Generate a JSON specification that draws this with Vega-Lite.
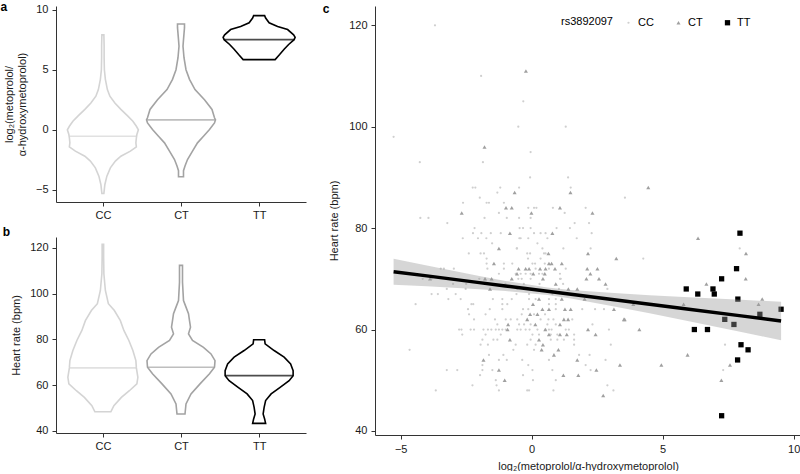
{
 "$schema": "https://vega.github.io/schema/vega-lite/v6.json",
 "background": "white",
 "padding": {"left": 0, "top": 0, "right": 0, "bottom": 0},
 "config": {
  "view": {"stroke": null},
  "font": "Liberation Sans",
  "axis": {"grid": false, "domainColor": "#333333", "tickColor": "#333333", "labelColor": "#1a1a1a", "titleColor": "#1a1a1a", "labelFontSize": 11, "titleFontSize": 11, "titleFontWeight": "normal", "tickSize": 4, "labelPadding": 3, "domainWidth": 1, "tickWidth": 1, "labelFlush": false},
  "title": {"fontSize": 12, "fontWeight": "bold", "anchor": "start", "frame": "bounds", "baseline": "alphabetic", "color": "#000000"}
 },
 "datasets": {
  "va": [
   {"g":"CC","v":7.9,"w":2},{"g":"CC","v":7,"w":2.5},{"g":"CC","v":6,"w":2.5},{"g":"CC","v":5,"w":3},{"g":"CC","v":4.2,"w":5},{"g":"CC","v":3.35,"w":9},{"g":"CC","v":2.8,"w":14},{"g":"CC","v":2.24,"w":24},{"g":"CC","v":1.7,"w":36},{"g":"CC","v":1.14,"w":50},{"g":"CC","v":0.72,"w":60},{"g":"CC","v":0.3,"w":67},{"g":"CC","v":0,"w":71},{"g":"CC","v":-0.39,"w":68},{"g":"CC","v":-0.66,"w":67},{"g":"CC","v":-1.08,"w":66},{"g":"CC","v":-1.41,"w":67},{"g":"CC","v":-1.77,"w":55},{"g":"CC","v":-2.19,"w":36},{"g":"CC","v":-2.6,"w":25},{"g":"CC","v":-3.16,"w":15},{"g":"CC","v":-3.85,"w":8},{"g":"CC","v":-4.54,"w":4},{"g":"CC","v":-5.29,"w":2},
   {"g":"CT","v":8.8,"w":7},{"g":"CT","v":8.5,"w":7},{"g":"CT","v":8,"w":6},{"g":"CT","v":7.5,"w":5},{"g":"CT","v":6.95,"w":4},{"g":"CT","v":6,"w":6},{"g":"CT","v":5,"w":10},{"g":"CT","v":4.2,"w":17},{"g":"CT","v":3.35,"w":28},{"g":"CT","v":2.5,"w":47},{"g":"CT","v":1.7,"w":62},{"g":"CT","v":1,"w":67},{"g":"CT","v":0.83,"w":69},{"g":"CT","v":0.58,"w":67},{"g":"CT","v":0.03,"w":57},{"g":"CT","v":-0.53,"w":45},{"g":"CT","v":-1.08,"w":33},{"g":"CT","v":-1.77,"w":23},{"g":"CT","v":-2.47,"w":13},{"g":"CT","v":-3,"w":8},{"g":"CT","v":-3.4,"w":5},{"g":"CT","v":-3.9,"w":5},
   {"g":"TT","v":9.5,"w":11},{"g":"TT","v":9.3,"w":13},{"g":"TT","v":8.9,"w":20},{"g":"TT","v":8.6,"w":37},{"g":"TT","v":8.34,"w":57},{"g":"TT","v":7.9,"w":69},{"g":"TT","v":7.7,"w":72},{"g":"TT","v":7.5,"w":70},{"g":"TT","v":7.1,"w":59},{"g":"TT","v":6.7,"w":50},{"g":"TT","v":6.26,"w":41},{"g":"TT","v":5.84,"w":32}
  ],
  "vb": [
   {"g":"CC","v":121.6,"w":1.5},{"g":"CC","v":116,"w":1.5},{"g":"CC","v":108.7,"w":2},{"g":"CC","v":101.4,"w":5},{"g":"CC","v":95.6,"w":11},{"g":"CC","v":92.6,"w":23},{"g":"CC","v":88.2,"w":35},{"g":"CC","v":83.9,"w":42},{"g":"CC","v":79.5,"w":52},{"g":"CC","v":75.1,"w":60},{"g":"CC","v":70.7,"w":66},{"g":"CC","v":67.5,"w":67},{"g":"CC","v":63.4,"w":70},{"g":"CC","v":60.5,"w":68},{"g":"CC","v":57.5,"w":53},{"g":"CC","v":54.6,"w":37},{"g":"CC","v":51,"w":22},{"g":"CC","v":48.3,"w":16},
   {"g":"CT","v":112.4,"w":3},{"g":"CT","v":105,"w":3},{"g":"CT","v":97,"w":5},{"g":"CT","v":94.1,"w":10},{"g":"CT","v":91.2,"w":15},{"g":"CT","v":88.2,"w":17},{"g":"CT","v":85.3,"w":19},{"g":"CT","v":82.4,"w":15},{"g":"CT","v":79.5,"w":23},{"g":"CT","v":76.5,"w":45},{"g":"CT","v":73.6,"w":60},{"g":"CT","v":70.7,"w":68},{"g":"CT","v":67.8,"w":67},{"g":"CT","v":64.9,"w":57},{"g":"CT","v":60.5,"w":38},{"g":"CT","v":56.1,"w":20},{"g":"CT","v":51.7,"w":10},{"g":"CT","v":47.3,"w":8},
   {"g":"TT","v":79.8,"w":11},{"g":"TT","v":78,"w":12},{"g":"TT","v":75.1,"w":30},{"g":"TT","v":72.2,"w":50},{"g":"TT","v":69.2,"w":63},{"g":"TT","v":66.3,"w":68},{"g":"TT","v":64.1,"w":68},{"g":"TT","v":61.9,"w":60},{"g":"TT","v":59,"w":42},{"g":"TT","v":56.1,"w":24},{"g":"TT","v":53.2,"w":13},{"g":"TT","v":50.2,"w":10},{"g":"TT","v":47.3,"w":8},{"g":"TT","v":45.1,"w":11},{"g":"TT","v":43.2,"w":13}
  ],
  "ma": [{"g":"CC","v":-0.53,"w":67},{"g":"CT","v":0.83,"w":69},{"g":"TT","v":7.5,"w":70}],
  "mb": [{"g":"CC","v":67.5,"w":67},{"g":"CT","v":67.8,"w":67},{"g":"TT","v":64.1,"w":68}],
  "fit": [
   {"x":-5.27,"fit":71.4,"lo":68.85,"hi":73.95},{"x":-4,"fit":70.57,"lo":68.52,"hi":72.62},{"x":-2,"fit":69.25,"lo":67.94,"hi":70.56},{"x":-1,"fit":68.59,"lo":67.59,"hi":69.59},{"x":0.6,"fit":67.54,"lo":66.79,"hi":68.29},{"x":1.5,"fit":66.95,"lo":66.11,"hi":67.79},{"x":3,"fit":65.97,"lo":64.71,"hi":67.23},{"x":4.5,"fit":64.98,"lo":63.21,"hi":66.75},{"x":6,"fit":63.99,"lo":61.61,"hi":66.37},{"x":8,"fit":62.68,"lo":59.5,"hi":65.86},{"x":9.52,"fit":61.68,"lo":57.88,"hi":65.48}
  ],
  "pts": [
   {"g":"CC","x":-4.27,"y":93},{"g":"CC","x":-1.86,"y":93},{"g":"CC","x":-2.25,"y":88},{"g":"CC","x":-2.15,"y":88},{"g":"CC","x":-1.2,"y":88},{"g":"CC","x":-0.48,"y":88},{"g":"CC","x":-1.31,"y":87},{"g":"CC","x":-1.98,"y":86},{"g":"CC","x":-2.62,"y":85},{"g":"CC","x":-1.72,"y":85},{"g":"CC","x":-1.63,"y":85},{"g":"CC","x":-1.06,"y":85},{"g":"CC","x":-1.25,"y":83},{"g":"CC","x":-4.25,"y":82},{"g":"CC","x":-3.94,"y":82},{"g":"CC","x":-3.22,"y":81},{"g":"CC","x":-1.8,"y":82},{"g":"CC","x":-0.95,"y":82},{"g":"CC","x":-2.18,"y":80},{"g":"CC","x":-2.24,"y":79},{"g":"CC","x":-1.92,"y":79},{"g":"CC","x":-1.56,"y":79},{"g":"CC","x":-1.18,"y":79},{"g":"CC","x":-2.63,"y":78},{"g":"CC","x":-2.05,"y":78},{"g":"CC","x":-1.73,"y":78},{"g":"CC","x":-0.47,"y":78},{"g":"CC","x":-1.51,"y":77},{"g":"CC","x":-0.56,"y":76},{"g":"CC","x":-2.4,"y":75},{"g":"CC","x":-1.95,"y":75},{"g":"CC","x":-1.82,"y":75},{"g":"CC","x":-1.72,"y":74},{"g":"CC","x":-1.72,"y":73},{"g":"CC","x":-1.06,"y":73},{"g":"CC","x":-0.74,"y":73},{"g":"CC","x":-3.47,"y":72},{"g":"CC","x":-3.35,"y":72},{"g":"CC","x":-2.97,"y":72},{"g":"CC","x":-1.69,"y":72},{"g":"CC","x":-1.06,"y":72},{"g":"CC","x":-1.25,"y":71},{"g":"CC","x":-4.16,"y":70},{"g":"CC","x":-3.82,"y":70},
   {"g":"CC","x":-1.93,"y":110},{"g":"CC","x":-0.32,"y":105},{"g":"CC","x":-5.27,"y":98},{"g":"CC","x":-3.69,"y":120},
   {"g":"CC","x":1.3,"y":100},{"g":"CC","x":-0.51,"y":100},{"g":"CC","x":-0.04,"y":95},{"g":"CC","x":-0.06,"y":90},{"g":"CC","x":1.39,"y":90},{"g":"CC","x":1.49,"y":88},{"g":"CC","x":3.56,"y":86},{"g":"CC","x":-0.13,"y":84},{"g":"CC","x":0.09,"y":84},{"g":"CC","x":0.18,"y":84},{"g":"CC","x":1.26,"y":83},{"g":"CC","x":2.06,"y":84},{"g":"CC","x":0.81,"y":84},{"g":"CC","x":-0.48,"y":82},{"g":"CC","x":-0.04,"y":82},{"g":"CC","x":1.64,"y":81},{"g":"CC","x":2.19,"y":81},{"g":"CC","x":-0.46,"y":80},{"g":"CC","x":-0.33,"y":80},{"g":"CC","x":-0.04,"y":80},{"g":"CC","x":0.95,"y":80},{"g":"CC","x":1.46,"y":80},{"g":"CC","x":0.09,"y":79},{"g":"CC","x":0.34,"y":79},{"g":"CC","x":0.53,"y":79},{"g":"CC","x":2.29,"y":79},{"g":"CC","x":-0.42,"y":78},{"g":"CC","x":-0.13,"y":78},{"g":"CC","x":0.6,"y":78},{"g":"CC","x":1.72,"y":78},{"g":"CC","x":0.22,"y":77},{"g":"CC","x":-0.57,"y":76},{"g":"CC","x":0.41,"y":76},{"g":"CC","x":1.21,"y":76},{"g":"CC","x":2.25,"y":76},{"g":"CC","x":-0.17,"y":75},{"g":"CC","x":-0.06,"y":75},{"g":"CC","x":0.47,"y":75},{"g":"CC","x":0.53,"y":75},{"g":"CC","x":-0.14,"y":74},{"g":"CC","x":0.34,"y":74},{"g":"CC","x":0.03,"y":73},{"g":"CC","x":0.13,"y":73},{"g":"CC","x":0.5,"y":73},{"g":"CC","x":0.15,"y":72},{"g":"CC","x":0.66,"y":72},{"g":"CC","x":1.3,"y":72},{"g":"CC","x":-0.51,"y":70},{"g":"CC","x":-0.38,"y":70},{"g":"CC","x":-0.04,"y":70},{"g":"CC","x":1.11,"y":70},
   {"g":"CC","x":-3.24,"y":68},{"g":"CC","x":-2.52,"y":68},{"g":"CC","x":-3.82,"y":67},{"g":"CC","x":-3.58,"y":67},{"g":"CC","x":-3.18,"y":66},{"g":"CC","x":-2.71,"y":66},{"g":"CC","x":-1.48,"y":66},{"g":"CC","x":-1.12,"y":66},{"g":"CC","x":-0.76,"y":66},{"g":"CC","x":-4.43,"y":65},{"g":"CC","x":-2.3,"y":65},{"g":"CC","x":-2.23,"y":65},{"g":"CC","x":-1.12,"y":65},{"g":"CC","x":-0.93,"y":65},{"g":"CC","x":-2.43,"y":64},{"g":"CC","x":-1.6,"y":64},{"g":"CC","x":-1.12,"y":64},{"g":"CC","x":-2.39,"y":63},{"g":"CC","x":-1.76,"y":63},{"g":"CC","x":-2.2,"y":62},{"g":"CC","x":-1.4,"y":62},{"g":"CC","x":-0.99,"y":62},{"g":"CC","x":-0.8,"y":62},{"g":"CC","x":-1.31,"y":61},{"g":"CC","x":-0.48,"y":61},{"g":"CC","x":-2.77,"y":60},{"g":"CC","x":-2.68,"y":60},{"g":"CC","x":-2.33,"y":60},{"g":"CC","x":-2.2,"y":60},{"g":"CC","x":-1.84,"y":60},{"g":"CC","x":-1.67,"y":60},{"g":"CC","x":-1.54,"y":60},{"g":"CC","x":-1.37,"y":60},{"g":"CC","x":-1.25,"y":60},{"g":"CC","x":-1.12,"y":60},{"g":"CC","x":-0.99,"y":60},{"g":"CC","x":-2.65,"y":59},{"g":"CC","x":-1.76,"y":59},{"g":"CC","x":-1.18,"y":59},{"g":"CC","x":-1.88,"y":58},{"g":"CC","x":-1.46,"y":58},{"g":"CC","x":-1.31,"y":58},{"g":"CC","x":-1.95,"y":57},{"g":"CC","x":-1.67,"y":57},{"g":"CC","x":-0.61,"y":57},{"g":"CC","x":-4.66,"y":56},{"g":"CC","x":-0.7,"y":56},{"g":"CC","x":-1.63,"y":55},{"g":"CC","x":-1.08,"y":55},{"g":"CC","x":-1.25,"y":54},{"g":"CC","x":-0.95,"y":54},{"g":"CC","x":-1.88,"y":53},{"g":"CC","x":-3.24,"y":52},{"g":"CC","x":-2.84,"y":52},{"g":"CC","x":-1.88,"y":52},{"g":"CC","x":-1.5,"y":52},{"g":"CC","x":-1.97,"y":51},{"g":"CC","x":-1.37,"y":50},{"g":"CC","x":-2.26,"y":49},{"g":"CC","x":-1.34,"y":49},{"g":"CC","x":-3.66,"y":48},{"g":"CC","x":-1.25,"y":48},
   {"g":"CC","x":-0.61,"y":71},{"g":"CC","x":-0.42,"y":71},{"g":"CC","x":-0.23,"y":71},{"g":"CC","x":-0.04,"y":71},{"g":"CC","x":0.28,"y":71},{"g":"CC","x":0.41,"y":71},{"g":"CC","x":1.08,"y":71},{"g":"CC","x":1.08,"y":70},
   {"g":"CC","x":-0.55,"y":68},{"g":"CC","x":-0.23,"y":68},{"g":"CC","x":1.04,"y":68},{"g":"CC","x":2.89,"y":68},{"g":"CC","x":-0.58,"y":67},{"g":"CC","x":-0.1,"y":67},{"g":"CC","x":0.79,"y":67},{"g":"CC","x":-0.1,"y":66},{"g":"CC","x":0.15,"y":66},{"g":"CC","x":0.66,"y":66},{"g":"CC","x":0.92,"y":66},{"g":"CC","x":0.66,"y":65},{"g":"CC","x":0.92,"y":65},{"g":"CC","x":-0.33,"y":64},{"g":"CC","x":-0.13,"y":64},{"g":"CC","x":0.92,"y":64},{"g":"CC","x":1.93,"y":64},{"g":"CC","x":2.42,"y":64},{"g":"CC","x":2.76,"y":64},{"g":"CC","x":-0.38,"y":63},{"g":"CC","x":0.09,"y":63},{"g":"CC","x":0.51,"y":63},{"g":"CC","x":-0.55,"y":62},{"g":"CC","x":0.34,"y":62},{"g":"CC","x":0.64,"y":62},{"g":"CC","x":0.83,"y":62},{"g":"CC","x":1.55,"y":62},{"g":"CC","x":-0.29,"y":61},{"g":"CC","x":-0.04,"y":61},{"g":"CC","x":0.6,"y":61},{"g":"CC","x":0.92,"y":61},{"g":"CC","x":2.32,"y":61},{"g":"CC","x":-0.55,"y":60},{"g":"CC","x":-0.42,"y":60},{"g":"CC","x":-0.23,"y":60},{"g":"CC","x":-0.08,"y":60},{"g":"CC","x":0.22,"y":60},{"g":"CC","x":0.53,"y":60},{"g":"CC","x":0.66,"y":60},{"g":"CC","x":0.76,"y":60},{"g":"CC","x":1.3,"y":60},{"g":"CC","x":1.42,"y":60},{"g":"CC","x":2.95,"y":60},{"g":"CC","x":0.03,"y":59},{"g":"CC","x":0.28,"y":59},{"g":"CC","x":0.73,"y":59},{"g":"CC","x":0.98,"y":59},{"g":"CC","x":1.62,"y":59},{"g":"CC","x":-0.04,"y":58},{"g":"CC","x":0.73,"y":58},{"g":"CC","x":0.98,"y":58},{"g":"CC","x":1.23,"y":58},{"g":"CC","x":1.62,"y":58},{"g":"CC","x":-0.17,"y":57},{"g":"CC","x":0.15,"y":57},{"g":"CC","x":1.62,"y":57},{"g":"CC","x":3.02,"y":57},{"g":"CC","x":0.09,"y":56},{"g":"CC","x":1.81,"y":55},{"g":"CC","x":2.21,"y":55},{"g":"CC","x":-0.36,"y":54},{"g":"CC","x":0.66,"y":54},{"g":"CC","x":2.82,"y":54},{"g":"CC","x":-0.13,"y":53},{"g":"CC","x":2.06,"y":53},{"g":"CC","x":0.03,"y":52},{"g":"CC","x":0.79,"y":52},{"g":"CC","x":2.25,"y":52},{"g":"CC","x":-0.33,"y":51},{"g":"CC","x":0.05,"y":50},{"g":"CC","x":0.92,"y":50},{"g":"CC","x":2.89,"y":49},{"g":"CC","x":-0.17,"y":48},{"g":"CC","x":-0.1,"y":48},{"g":"CC","x":0.83,"y":48},{"g":"CC","x":3.12,"y":48},
   {"g":"CC","x":4.26,"y":74},{"g":"CC","x":7.94,"y":76},{"g":"CC","x":7.31,"y":52},{"g":"CC","x":7.38,"y":57},{"g":"CC","x":-3.0,"y":69},{"g":"CC","x":-2.5,"y":69},{"g":"CC","x":-1.0,"y":69},{"g":"CC","x":0.3,"y":69},{"g":"CC","x":1.2,"y":69},{"g":"CC","x":-2.0,"y":70},{"g":"CC","x":-2.9,"y":67},{"g":"CC","x":-0.3,"y":69},
   {"g":"CT","x":-1.8,"y":96},{"g":"CT","x":-0.65,"y":87},{"g":"CT","x":-0.98,"y":84},{"g":"CT","x":-0.76,"y":84},{"g":"CT","x":-2.67,"y":83},{"g":"CT","x":-0.83,"y":79},{"g":"CT","x":-1.25,"y":76},{"g":"CT","x":-1.44,"y":73},{"g":"CT","x":-0.5,"y":72},{"g":"CT","x":-0.56,"y":71},{"g":"CT","x":-1.78,"y":70},{"g":"CT","x":-1.53,"y":70},{"g":"CT","x":-0.76,"y":70},{"g":"CT","x":-3.88,"y":70},{"g":"CT","x":-1.59,"y":68},{"g":"CT","x":-0.9,"y":61},{"g":"CT","x":-0.92,"y":60},{"g":"CT","x":-0.83,"y":58},{"g":"CT","x":-1.84,"y":54},{"g":"CT","x":-1.25,"y":52},{"g":"CT","x":-1.03,"y":50},
   {"g":"CT","x":-0.22,"y":111},{"g":"CT","x":1.48,"y":87},{"g":"CT","x":-0.01,"y":83},{"g":"CT","x":1.08,"y":84},{"g":"CT","x":2.32,"y":83},{"g":"CT","x":0.79,"y":79},{"g":"CT","x":0.64,"y":75},{"g":"CT","x":2.15,"y":75},{"g":"CT","x":3.23,"y":74},{"g":"CT","x":0.66,"y":73},{"g":"CT","x":0.76,"y":73},{"g":"CT","x":1.15,"y":73},
   {"g":"CT","x":-0.23,"y":72},{"g":"CT","x":-0.1,"y":72},{"g":"CT","x":0.32,"y":72},{"g":"CT","x":0.53,"y":72},{"g":"CT","x":0.89,"y":72},{"g":"CT","x":2.12,"y":72},{"g":"CT","x":2.51,"y":72},{"g":"CT","x":0.06,"y":71},{"g":"CT","x":0.5,"y":71},{"g":"CT","x":2.24,"y":71},{"g":"CT","x":0.43,"y":70},{"g":"CT","x":2.09,"y":70},{"g":"CT","x":2.57,"y":70},
   {"g":"CT","x":2.82,"y":69},{"g":"CT","x":0.92,"y":69},{"g":"CT","x":1.4,"y":68},{"g":"CT","x":1.74,"y":68},{"g":"CT","x":1.15,"y":66},{"g":"CT","x":2.02,"y":66},{"g":"CT","x":0.28,"y":66},{"g":"CT","x":0.05,"y":65},{"g":"CT","x":0.41,"y":64},{"g":"CT","x":0.66,"y":64},{"g":"CT","x":1.27,"y":64},{"g":"CT","x":1.49,"y":64},{"g":"CT","x":-0.06,"y":63},{"g":"CT","x":0.22,"y":63},{"g":"CT","x":3.14,"y":64},{"g":"CT","x":-0.17,"y":62},{"g":"CT","x":1.23,"y":62},{"g":"CT","x":1.39,"y":62},{"g":"CT","x":3.52,"y":62},{"g":"CT","x":0.14,"y":61},{"g":"CT","x":1.08,"y":61},{"g":"CT","x":0.52,"y":60},{"g":"CT","x":2.15,"y":60},{"g":"CT","x":0.66,"y":59},{"g":"CT","x":1.08,"y":59},{"g":"CT","x":1.34,"y":59},{"g":"CT","x":2.44,"y":59},{"g":"CT","x":0.28,"y":58},{"g":"CT","x":0.43,"y":57},{"g":"CT","x":0.38,"y":56},{"g":"CT","x":1.02,"y":56},{"g":"CT","x":0.85,"y":55},{"g":"CT","x":1.74,"y":54},{"g":"CT","x":3.37,"y":53},{"g":"CT","x":2.47,"y":52},{"g":"CT","x":1.21,"y":51},{"g":"CT","x":1.78,"y":51},{"g":"CT","x":2.73,"y":47},
   {"g":"CT","x":4.45,"y":88},{"g":"CT","x":6.35,"y":78},{"g":"CT","x":8.18,"y":75},{"g":"CT","x":8.17,"y":70},{"g":"CT","x":6.67,"y":69},{"g":"CT","x":8.8,"y":66},{"g":"CT","x":8.66,"y":65},{"g":"CT","x":5.8,"y":65},{"g":"CT","x":3.88,"y":65},{"g":"CT","x":3.55,"y":62},{"g":"CT","x":5.95,"y":55},{"g":"CT","x":7.57,"y":53},{"g":"CT","x":7.24,"y":50},{"g":"CT","x":4.95,"y":53},{"g":"CT","x":4.11,"y":60},
   {"g":"TT","x":7.95,"y":79},{"g":"TT","x":7.82,"y":72},{"g":"TT","x":7.25,"y":70},{"g":"TT","x":5.9,"y":68},{"g":"TT","x":6.92,"y":68},{"g":"TT","x":6.34,"y":67},{"g":"TT","x":6.97,"y":67},{"g":"TT","x":7.87,"y":66},{"g":"TT","x":9.52,"y":64},{"g":"TT","x":8.71,"y":63},{"g":"TT","x":7.37,"y":62},{"g":"TT","x":7.72,"y":61},{"g":"TT","x":6.21,"y":60},{"g":"TT","x":6.71,"y":60},{"g":"TT","x":7.99,"y":57},{"g":"TT","x":8.26,"y":56},{"g":"TT","x":7.86,"y":54},{"g":"TT","x":7.25,"y":43}
  ]
 },
 "spacing": 16,
 "resolve": {"scale": {"color": "independent", "size": "independent", "shape": "independent"}, "legend": {"color": "independent", "size": "independent", "shape": "independent"}},
 "hconcat": [
  {
   "spacing": 6,
   "vconcat": [
    {
     "width": 250, "height": 196,
     "title": {"text": "a", "offset": -10, "dx": -3},
     "resolve": {"scale": {"x": "independent"}},
     "layer": [
      {"data": {"name": "va"}, "transform": [{"filter": "datum.g === 'CC'"}],
       "mark": {"type": "area", "orient": "horizontal", "fill": "white", "stroke": "#d4d4d4", "strokeWidth": 1.6},
       "encoding": {
        "y": {"field": "v", "type": "quantitative", "scale": {"domain": [-6.0, 10.3], "nice": false, "zero": false}, "axis": {"values": [-5, 0, 5, 10], "title": ["log₂(metoprolol/", "α-hydroxymetoprolol)"], "titlePadding": 8, "labelPadding": 4}},
        "x": {"field": "w", "type": "quantitative", "stack": "center", "scale": {"domain": [-11.375, 238.625], "nice": false, "zero": false}, "axis": null}}},
      {"data": {"name": "va"}, "transform": [{"filter": "datum.g === 'CT'"}],
       "mark": {"type": "area", "orient": "horizontal", "fill": "white", "stroke": "#a3a3a3", "strokeWidth": 1.6},
       "encoding": {
        "y": {"field": "v", "type": "quantitative", "scale": {"domain": [-6.0, 10.3], "nice": false, "zero": false}},
        "x": {"field": "w", "type": "quantitative", "stack": "center", "scale": {"domain": [-90.5, 159.5], "nice": false, "zero": false}, "axis": null}}},
      {"data": {"name": "va"}, "transform": [{"filter": "datum.g === 'TT'"}],
       "mark": {"type": "area", "orient": "horizontal", "fill": "white", "stroke": "#000000", "strokeWidth": 1.6},
       "encoding": {
        "y": {"field": "v", "type": "quantitative", "scale": {"domain": [-6.0, 10.3], "nice": false, "zero": false}},
        "x": {"field": "w", "type": "quantitative", "stack": "center", "scale": {"domain": [-167.125, 82.875], "nice": false, "zero": false}, "axis": null}}},
      {"data": {"name": "ma"},
       "mark": {"type": "tick", "orient": "horizontal", "thickness": 1.6},
       "encoding": {
        "x": {"field": "g", "type": "nominal", "sort": ["CC", "CT", "TT"], "scale": {"type": "point", "padding": 0.6}, "axis": {"title": null, "labelAngle": 0, "labelPadding": 3}},
        "y": {"field": "v", "type": "quantitative", "scale": {"domain": [-6.0, 10.3], "nice": false, "zero": false}},
        "size": {"field": "w", "type": "quantitative", "scale": null},
        "color": {"field": "g", "type": "nominal", "scale": {"domain": ["CC", "CT", "TT"], "range": ["#d4d4d4", "#a3a3a3", "#000000"]}, "legend": null}}}
     ]
    },
    {
     "width": 250, "height": 196,
     "title": {"text": "b", "offset": -2, "dx": -8},
     "resolve": {"scale": {"x": "independent"}},
     "layer": [
      {"data": {"name": "vb"}, "transform": [{"filter": "datum.g === 'CC'"}],
       "mark": {"type": "area", "orient": "horizontal", "fill": "white", "stroke": "#d4d4d4", "strokeWidth": 1.6},
       "encoding": {
        "y": {"field": "v", "type": "quantitative", "scale": {"domain": [39.0, 124.8], "nice": false, "zero": false}, "axis": {"values": [40, 60, 80, 100, 120], "title": "Heart rate (bpm)", "titlePadding": 8, "labelPadding": 4}},
        "x": {"field": "w", "type": "quantitative", "stack": "center", "scale": {"domain": [-11.875, 238.125], "nice": false, "zero": false}, "axis": null}}},
      {"data": {"name": "vb"}, "transform": [{"filter": "datum.g === 'CT'"}],
       "mark": {"type": "area", "orient": "horizontal", "fill": "white", "stroke": "#a3a3a3", "strokeWidth": 1.6},
       "encoding": {
        "y": {"field": "v", "type": "quantitative", "scale": {"domain": [39.0, 124.8], "nice": false, "zero": false}},
        "x": {"field": "w", "type": "quantitative", "stack": "center", "scale": {"domain": [-91, 159], "nice": false, "zero": false}, "axis": null}}},
      {"data": {"name": "vb"}, "transform": [{"filter": "datum.g === 'TT'"}],
       "mark": {"type": "area", "orient": "horizontal", "fill": "white", "stroke": "#000000", "strokeWidth": 1.6},
       "encoding": {
        "y": {"field": "v", "type": "quantitative", "scale": {"domain": [39.0, 124.8], "nice": false, "zero": false}},
        "x": {"field": "w", "type": "quantitative", "stack": "center", "scale": {"domain": [-169.125, 80.875], "nice": false, "zero": false}, "axis": null}}},
      {"data": {"name": "mb"},
       "mark": {"type": "tick", "orient": "horizontal", "thickness": 1.6},
       "encoding": {
        "x": {"field": "g", "type": "nominal", "sort": ["CC", "CT", "TT"], "scale": {"type": "point", "padding": 0.6}, "axis": {"title": null, "labelAngle": 0, "labelPadding": 3}},
        "y": {"field": "v", "type": "quantitative", "scale": {"domain": [39.0, 124.8], "nice": false, "zero": false}},
        "size": {"field": "w", "type": "quantitative", "scale": null},
        "color": {"field": "g", "type": "nominal", "scale": {"domain": ["CC", "CT", "TT"], "range": ["#d4d4d4", "#a3a3a3", "#000000"]}, "legend": null}}}
     ]
    }
   ]
  },
  {
   "width": 426, "height": 429,
   "title": {"text": "c", "offset": -10, "dx": -6},
   "layer": [
    {"data": {"name": "pts"},
     "mark": {"type": "point", "filled": true, "opacity": 1, "strokeWidth": 0},
     "encoding": {
      "x": {"field": "x", "type": "quantitative", "scale": {"domain": [-5.98, 10.28], "nice": false, "zero": false}, "axis": {"values": [-5, 0, 5, 10], "title": "log₂(metoprolol/α-hydroxymetoprolol)", "titlePadding": 6, "labelPadding": 4}},
      "y": {"field": "y", "type": "quantitative", "scale": {"domain": [39.2, 123.8], "nice": false, "zero": false}, "axis": {"values": [40, 60, 80, 100, 120], "title": "Heart rate (bpm)", "titlePadding": 9, "labelPadding": 4}},
      "color": {"field": "g", "type": "nominal", "scale": {"domain": ["CC", "CT", "TT"], "range": ["#cfcfcf", "#a0a0a0", "#000000"]},
       "legend": {"title": "rs3892097", "orient": "none", "legendX": 186, "legendY": 11, "direction": "horizontal", "titleOrient": "left", "titleFontWeight": "normal", "titleFontSize": 11, "labelFontSize": 11, "titlePadding": 10, "columnPadding": 19, "labelOffset": 4, "symbolStrokeWidth": 0}},
      "shape": {"field": "g", "type": "nominal", "scale": {"domain": ["CC", "CT", "TT"], "range": ["circle", "triangle-up", "square"]},
       "legend": {"title": "rs3892097", "orient": "none", "legendX": 186, "legendY": 11, "direction": "horizontal", "titleOrient": "left", "titleFontWeight": "normal", "titleFontSize": 11, "labelFontSize": 11, "titlePadding": 10, "columnPadding": 19, "labelOffset": 4, "symbolStrokeWidth": 0}},
      "size": {"field": "g", "type": "nominal", "scale": {"domain": ["CC", "CT", "TT"], "range": [5, 28, 19]},
       "legend": {"title": "rs3892097", "orient": "none", "legendX": 186, "legendY": 11, "direction": "horizontal", "titleOrient": "left", "titleFontWeight": "normal", "titleFontSize": 11, "labelFontSize": 11, "titlePadding": 10, "columnPadding": 19, "labelOffset": 4, "symbolStrokeWidth": 0}}}},
    {"data": {"name": "fit"},
     "mark": {"type": "area", "color": "#999999", "opacity": 0.4},
     "encoding": {
      "x": {"field": "x", "type": "quantitative", "scale": {"domain": [-5.98, 10.28], "nice": false, "zero": false}},
      "y": {"field": "lo", "type": "quantitative", "scale": {"domain": [39.2, 123.8], "nice": false, "zero": false}},
      "y2": {"field": "hi"}}},
    {"data": {"name": "fit"},
     "mark": {"type": "line", "color": "#000000", "strokeWidth": 3.4},
     "encoding": {
      "x": {"field": "x", "type": "quantitative", "scale": {"domain": [-5.98, 10.28], "nice": false, "zero": false}},
      "y": {"field": "fit", "type": "quantitative", "scale": {"domain": [39.2, 123.8], "nice": false, "zero": false}}}}
   ]
  }
 ]
}
